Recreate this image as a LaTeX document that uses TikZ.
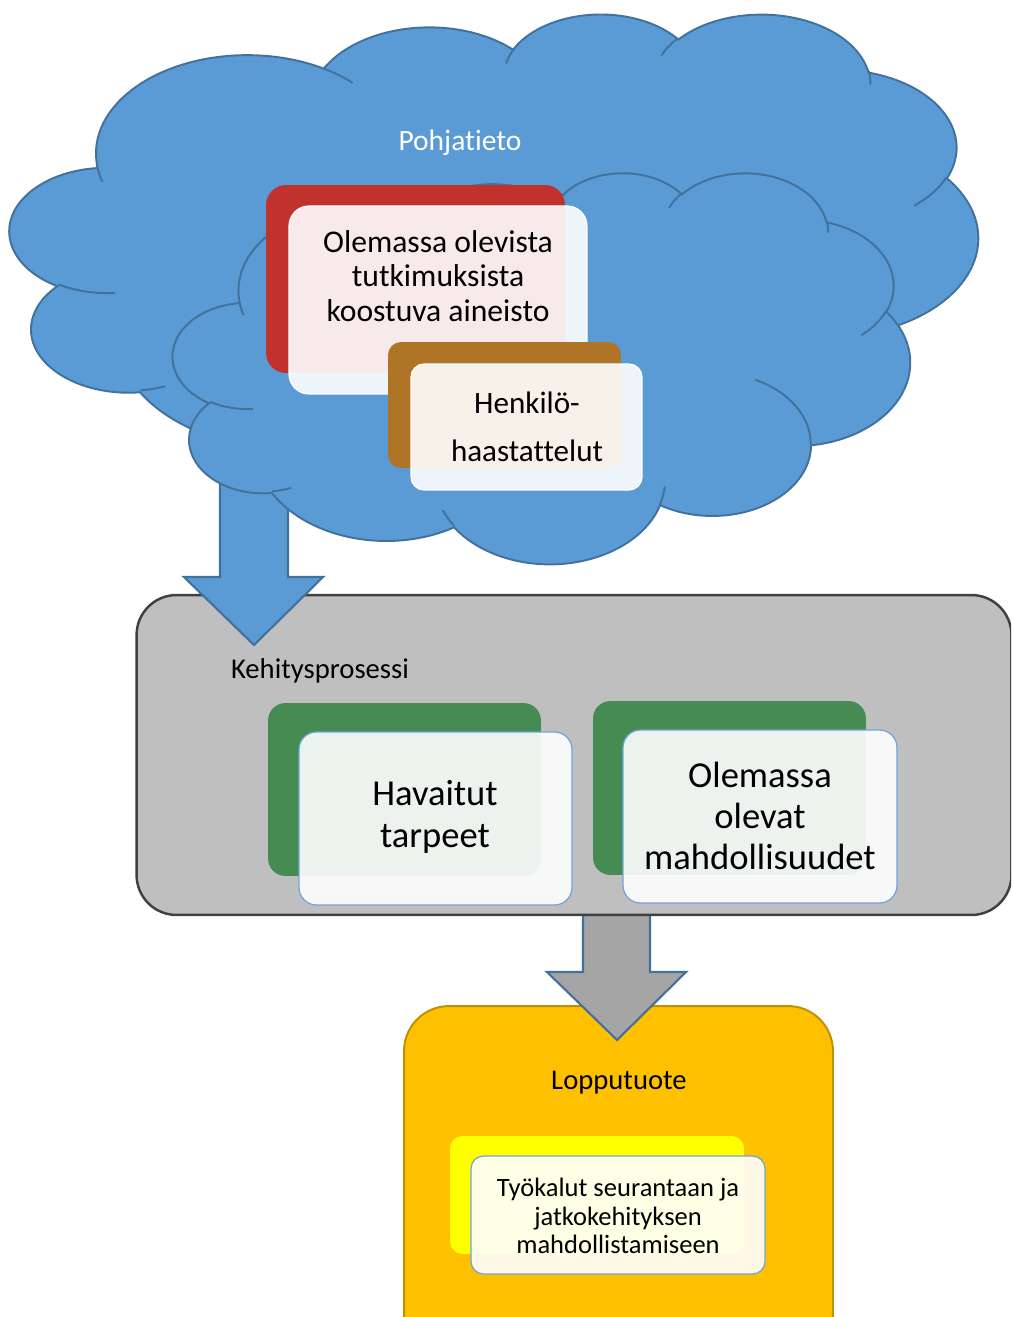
\documentclass[tikz,border=0pt]{standalone}
\usepackage{fontspec}
\setmainfont{Carlito}[Ligatures={NoCommon,NoContextual},RawFeature={-liga;-clig;-dlig}]
\definecolor{bleuNuage}{HTML}{5B9BD5}
\definecolor{bordNuage}{HTML}{41719C}
\definecolor{gris}{HTML}{BFBFBF}
\definecolor{grisFonce}{HTML}{404040}
\definecolor{grisFleche}{HTML}{A5A5A5}
\definecolor{dore}{HTML}{FFC000}
\definecolor{bordDore}{HTML}{BF9000}
\definecolor{rouge}{HTML}{C0322B}
\definecolor{brun}{HTML}{B07426}
\definecolor{vert}{HTML}{468B52}
\definecolor{jaune}{HTML}{FFFF00}
\definecolor{bordCarte}{HTML}{6FA5DA}

\begin{document}
\begin{tikzpicture}[x=0.02cm,y=-0.02cm]
\tikzset{
	carte/.style={rectangle, inner sep=0pt, outer sep=0pt},
	fond/.style={carte, fill=#1},
	devant/.style={carte, fill=white, fill opacity=0.9, draw=#1, line width=0.7pt},
	boite/.style={carte, line width=#1},
	fleche/.style={draw=bordNuage, line width=1.2pt, line join=miter},
	texte/.style={align=center, text=black},
	nuage/.pic={
		\filldraw[fill=bleuNuage, draw=bordNuage, line width=1.1pt]
			(0.09028,0.33264)
			arc[x radius=0.15632, y radius=0.21273, start angle=172.25, end angle=300.36]
			arc[x radius=0.12345, y radius=0.16822, start angle=-152.02, end angle=-45.45]
			arc[x radius=0.10104, y radius=0.13762, start angle=-153.49, end angle=-37.33]
			arc[x radius=0.11243, y radius=0.15266, start angle=-139.72, end angle=-10.22]
			arc[x radius=0.12345, y radius=0.16836, start angle=-74.77, end angle=23.21]
			arc[x radius=0.15683, y radius=0.21343, start angle=-37.53, end angle=81.86]
			arc[x radius=0.13391, y radius=0.18211, start angle=0.46, end angle=121.98]
			arc[x radius=0.15630, y radius=0.21331, start angle=16.85, end angle=146.23]
			arc[x radius=0.17870, y radius=0.24405, start angle=58.98, end angle=150.19]
			arc[x radius=0.10093, y radius=0.13699, start angle=83.31, end angle=223.11]
			arc[x radius=0.10058, y radius=0.13762, start angle=120.35, end angle=264.11]
			-- cycle;
		% les petits traits dans le nuage
		\draw[draw=bordNuage, line width=1.1pt]
			(0.10863,0.60595) arc[x radius=0.10058, y radius=0.13762, start angle=85.54, end angle=120.35]
			(0.16037,0.80785) arc[x radius=0.10093, y radius=0.13699, start angle=68.24, end angle=83.31]
			(0.38144,0.90486) arc[x radius=0.15630, y radius=0.21331, start angle=146.23, end angle=158.47]
			(0.66729,0.80442) arc[x radius=0.15630, y radius=0.21331, start angle=4.74, end angle=16.85]
			(0.79002,0.53134) arc[x radius=0.13391, y radius=0.18211, start angle=-64.02, end angle=0.46]
			(0.96755,0.35542) arc[x radius=0.12345, y radius=0.16836, start angle=23.21, end angle=49.64]
			(0.88713,0.12560) arc[x radius=0.11243, y radius=0.15266, start angle=-10.22, end angle=0.82]
			(0.67310,0.09148) arc[x radius=0.11243, y radius=0.15266, start angle=-156.29, end angle=-139.72]
			(0.51252,0.10926) arc[x radius=0.10104, y radius=0.13762, start angle=-167.72, end angle=-153.49]
			(0.32407,0.12019) arc[x radius=0.15632, y radius=0.21273, start angle=-59.64, end angle=-45.75]
			(0.09553,0.36549) arc[x radius=0.15632, y radius=0.21273, start angle=163.19, end angle=172.25];
	}
}
\useasboundingbox (0,0) rectangle (1011,1317);
\clip (0,0) rectangle (1011,1317);

% le produit final
\node[boite=1.1pt, fill=dore, draw=bordDore, rounded corners=0.9cm,
	minimum width=8.58cm, minimum height=7.08cm] (lopputuote) at (618.5,1183) {};
\node[fond=jaune, rounded corners=0.25cm, minimum width=5.88cm, minimum height=2.36cm] (tyokaluFond) at (597,1195) {};
\node[devant=bordCarte, rounded corners=0.25cm, minimum width=5.88cm, minimum height=2.36cm] (tyokalu) at (618,1215) {};
\node[texte, font=\fontsize{15.1}{16.4}\selectfont] (tyokaluTexte) at (618,1216)
	{Työkalut seurantaan ja\\jatkokehityksen\\mahdollistamiseen};
\node[texte, font=\fontsize{16.3}{19}\selectfont] (lopputuoteTexte) at (619,1083) {Lopputuote};

% flèche grise
\filldraw[fleche, fill=grisFleche] (583,912) -- (583,972) -- (547,972) -- (617,1040)
	-- (686,972) -- (650,972) -- (650,912) -- cycle;

% le processus
\node[boite=1.4pt, fill=gris, draw=grisFonce, rounded corners=0.8cm,
	minimum width=17.5cm, minimum height=6.4cm] (kehitys) at (574,755) {};
\node[texte, font=\fontsize{16.3}{19}\selectfont] (kehitysTexte) at (320,671) {Kehitysprosessi};

\node[fond=vert, rounded corners=0.35cm, minimum width=5.46cm, minimum height=3.46cm] (tarpeetFond) at (404.5,789.5) {};
\node[devant=bordCarte, rounded corners=0.35cm, minimum width=5.46cm, minimum height=3.46cm] (tarpeet) at (435.5,818.5) {};
\node[texte, font=\fontsize{20.8}{23.5}\selectfont] (tarpeetTexte) at (435,817) {Havaitut\\tarpeet};

\node[fond=vert, rounded corners=0.35cm, minimum width=5.46cm, minimum height=3.48cm] (mahdFond) at (729.5,788) {};
\node[devant=bordCarte, rounded corners=0.35cm, minimum width=5.48cm, minimum height=3.46cm] (mahd) at (760,816.5) {};
\node[texte, font=\fontsize{20.8}{23.5}\selectfont] (mahdTexte) at (760,816) {Olemassa\\olevat\\mahdollisuudet};

% flèche bleue, sous le nuage
\filldraw[fleche, fill=bleuNuage] (220,470) -- (220,577) -- (184,577) -- (254,645)
	-- (323,577) -- (288,577) -- (288,470) -- cycle;

% les deux nuages
\path (10,13) pic[xscale=968, yscale=462] {nuage};
\path (173,172) pic[xscale=737, yscale=391] {nuage};
\node[font=\fontsize{16.8}{19}\selectfont, text=white] (pohja) at (460,143) {Pohjatieto};

\node[fond=rouge, rounded corners=0.4cm, minimum width=5.98cm, minimum height=3.76cm] (aineistoFond) at (415.5,279) {};
\node[devant=white, rounded corners=0.4cm, minimum width=5.96cm, minimum height=3.76cm] (aineisto) at (438,300) {};
\node[texte, font=\fontsize{18}{19.8}\selectfont] (aineistoTexte) at (438,276)
	{Olemassa olevista\\tutkimuksista\\koostuva aineisto};

\node[fond=brun, rounded corners=0.26cm, minimum width=4.66cm, minimum height=2.52cm] (haastFond) at (504.5,405) {};
\node[devant=white, rounded corners=0.26cm, minimum width=4.62cm, minimum height=2.52cm] (haast) at (526.5,427) {};
\node[texte, font=\fontsize{17.7}{27.2}\selectfont] (haastTexte) at (527,427) {Henkilö-\\haastattelut};
\end{tikzpicture}
\end{document}
